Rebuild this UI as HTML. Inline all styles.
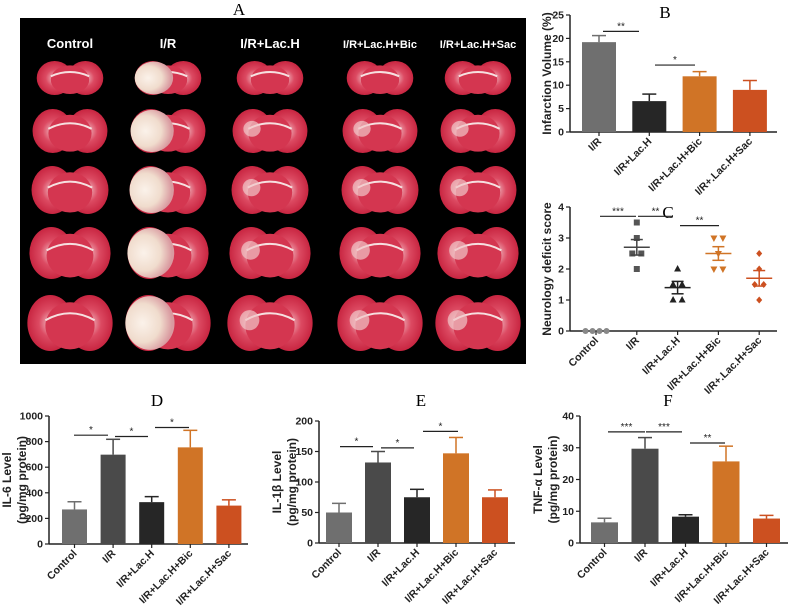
<!DOCTYPE html>
<html><head><meta charset="utf-8">
<style>
html,body{margin:0;padding:0;background:#fff;}
svg{display:block;font-family:"Liberation Sans",Arial,sans-serif;}
.t{font-family:"Liberation Serif",serif;font-size:17px;}
.tick{font-size:10.5px;font-weight:bold;fill:#222;}
.lab{font-size:12px;font-weight:bold;fill:#222;}
</style></head>
<body>
<svg id="fig" width="789" height="608" viewBox="0 0 789 608">
<defs>
<radialGradient id="brainRed" cx="50%" cy="50%" r="55%">
<stop offset="0%" stop-color="#f0c0c6"/><stop offset="45%" stop-color="#dc4a62"/><stop offset="100%" stop-color="#c41e3a"/>
</radialGradient>
<radialGradient id="brainWhite" cx="35%" cy="50%" r="60%">
<stop offset="0%" stop-color="#fbf2ea"/><stop offset="60%" stop-color="#f0dccd"/><stop offset="100%" stop-color="#d99aa0"/>
</radialGradient>
</defs>
<g id="panelA">
<text class="t" x="239" y="15" text-anchor="middle">A</text>
<rect x="20" y="18" width="506" height="346" fill="#000"/>
</g>
<g id="charts"></g>
</svg>
<script>
const colNames = ["Control","I/R","I/R+Lac.H","I/R+Lac.H+Bic","I/R+Lac.H+Sac"];
const NS="http://www.w3.org/2000/svg";
function mk(tag,attrs,parent){const e=document.createElementNS(NS,tag);for(const k in attrs)e.setAttribute(k,attrs[k]);parent.appendChild(e);return e;}
const A=document.getElementById('panelA');
const colX=[70,168,270,380,478], rowY=[78,131,190,253,323], rowW=[64,72,74,78,82], rowH=[34,44,48,52,56];
colNames.forEach((n,i)=>{
  const t=mk('text',{x:colX[i],y:48,'text-anchor':'middle',fill:'#fff','font-size':i<3?13:11,'font-weight':'bold'},A);
  t.textContent=n;
  
  
  rowY.forEach((y,r)=>{
    const g=mk('g',{},A);
    
    
    const w=rowW[r],h=rowH[r],x=colX[i];
    mk('ellipse',{cx:x-w*0.24,cy:y,rx:w*0.28,ry:h/2,fill:'url(#brainRed)'},g);
    mk('ellipse',{cx:x+w*0.24,cy:y,rx:w*0.28,ry:h/2,fill:'url(#brainRed)'},g);
    mk('ellipse',{cx:x,cy:y+h*0.05,rx:w*0.3,ry:h*0.42,fill:'#d43650'},g);
    mk('path',{d:`M${x-w*0.3} ${y-h*0.05} Q${x} ${y-h*0.3} ${x+w*0.3} ${y-h*0.05}`,stroke:'#f6e0e0','stroke-width':2,fill:'none'},g);
    if(i===1){mk('ellipse',{cx:x-w*0.22,cy:y,rx:w*0.3,ry:h*0.48,fill:'url(#brainWhite)'},g);}
    if(i>=2 && r>=1){mk('ellipse',{cx:x-w*0.25,cy:y-h*0.05,rx:w*0.12,ry:h*0.18,fill:'#f1c6c8',opacity:0.7},g);}
  });
});

const catsB=["I/R","I/R+Lac.H","I/R+Lac.H+Bic","I/R+.Lac.H+Sac"];
const valsB=[19.2,6.6,11.9,9.0];
const errB=[20.6,8.1,12.9,11.0];
const ticksB=[0,5,10,15,20,25];

const catsC=["Control","I/R","I/R+Lac.H","I/R+Lac.H+Bic","I/R+.Lac.H+Sac"];
const ptsC=[[0,0,0,0],[3.5,3,2.5,2.5,2],[2,1.5,1.5,1,1],[3,3,2,2,2.5],[2.5,2,1.5,1.5,1]];
const meanC=[0,2.7,1.4,2.5,1.7];
const semC=[0,0.25,0.2,0.22,0.25];
const ticksC=[0,1,2,3,4];

const catsDEF=["Control","I/R","I/R+Lac.H","I/R+Lac.H+Bic","I/R+Lac.H+Sac"];
const valsD=[270,698,327,755,300];
const errD=[330,818,370,888,345];
const ticksD=[0,200,400,600,800,1000];
const valsE=[50,132,75,147,75];
const errE=[65,150,88,173,87];
const ticksE=[0,50,100,150,200];
const valsF=[6.5,29.7,8.3,25.7,7.7];
const errF=[7.8,33.2,8.9,30.5,8.7];
const ticksF=[0,10,20,30,40];

const colors5=["#6f6f6f","#4a4a4a","#262626","#d07426","#cc5020"];
const colorsB=["#6f6f6f","#262626","#d07426","#cc5020"];

const C=document.getElementById('charts');

function axes(g,o){
  const y=v=>o.y0-(v-o.min)/(o.max-o.min)*(o.y0-o.y1);
  mk('line',{x1:o.ax,y1:o.y1,x2:o.ax,y2:o.y0,stroke:'#222','stroke-width':1.5},g);
  mk('line',{x1:o.ax,y1:o.y0,x2:o.axEnd,y2:o.y0,stroke:'#222','stroke-width':1.5},g);
  o.ticks.forEach(tv=>{
    mk('line',{x1:o.ax-4,y1:y(tv),x2:o.ax,y2:y(tv),stroke:'#222','stroke-width':1.2},g);
    const t=mk('text',{x:o.ax-6,y:y(tv)+3.5,'text-anchor':'end',class:'tick'},g);
    t.textContent=tv;
    
    
  });
  o.cats.forEach((c,i)=>{
    const cx=o.x(i);
    mk('line',{x1:cx,y1:o.y0,x2:cx,y2:o.y0+4,stroke:'#222','stroke-width':1.2},g);
    const t=mk('text',{x:cx+3,y:o.y0+10,'text-anchor':'end',class:'tick',transform:`rotate(-45 ${cx+3} ${o.y0+10})`},g);
    t.textContent=c;
    
    
  });
  o.ylab.forEach((l,k)=>{
    const lx=o.labX+k*15;
    const t=mk('text',{x:lx,y:(o.y0+o.y1)/2,'text-anchor':'middle',class:'lab',transform:`rotate(-90 ${lx} ${(o.y0+o.y1)/2})`},g);
    t.textContent=l;
    
    
  });
  const tt=mk('text',{x:o.tx,y:o.ty,'text-anchor':'middle',class:'t'},g);
  tt.textContent=o.title;
  
  
  return y;
}
function sig(g,x1,x2,yy,s){
  mk('line',{x1:x1,y1:yy,x2:x2,y2:yy,stroke:'#222','stroke-width':1.2},g);
  const t=mk('text',{x:(x1+x2)/2,y:yy-2,'text-anchor':'middle','font-size':10,fill:'#222'},g);
  t.textContent=s;
  
  
}
function barChart(o,vals,errs,cols,name){
  const g=mk('g',{},C);
  
  
  const y=axes(g,o);
  vals.forEach((v,i)=>{
    const cx=o.x(i), e=errs[i];
    mk('line',{x1:cx,y1:y(v),x2:cx,y2:y(e),stroke:cols[i],'stroke-width':1.5},g);
    mk('line',{x1:cx-7,y1:y(e),x2:cx+7,y2:y(e),stroke:cols[i],'stroke-width':1.5},g);
    const r=mk('rect',{x:cx-o.bw/2,y:y(v),width:o.bw,height:o.y0-y(v),fill:cols[i]},g);
    
    
  });
  o.sigs.forEach(s=>sig(g,s[0],s[1],y(s[2]),s[3]));
}

barChart({ax:570,axEnd:777,y0:132,y1:15,min:0,max:25,ticks:ticksB,cats:catsB,x:i=>599+i*50.3,bw:34,
  ylab:["Infarction Volume (%)"],labX:551,title:"B",tx:665,ty:18,
  sigs:[[603,639,21.5,"**"],[655,695,14.3,"*"]]},valsB,errB,colorsB,'panel-b-infarction-chart');

(function(){
  const g=mk('g',{},C);
  
  
  const o={ax:570,axEnd:777,y0:331,y1:207,min:0,max:4,ticks:ticksC,cats:catsC,x:i=>596+i*40.8,
    ylab:["Neurology deficit score"],labX:551,title:"C",tx:668,ty:218};
  const y=axes(g,o);
  ptsC.forEach((pts,i)=>{
    const cx=o.x(i);
    const seen={};
    pts.forEach(v=>{
      const n=seen[v]=(seen[v]||0)+1;
      const cnt=pts.filter(p=>p===v).length;
      const px=cx+(n-1-(cnt-1)/2)*(i===0?7:9);
      let m;
      if(i===0) m=mk('circle',{cx:px,cy:y(v),r:3,fill:'#888'},g);
      else if(i===1) m=mk('rect',{x:px-3,y:y(v)-3,width:6,height:6,fill:'#555'},g);
      else if(i===2) m=mk('path',{d:`M${px} ${y(v)-4}L${px+3.5} ${y(v)+2.5}L${px-3.5} ${y(v)+2.5}Z`,fill:'#222'},g);
      else if(i===3) m=mk('path',{d:`M${px} ${y(v)+4}L${px+3.5} ${y(v)-2.5}L${px-3.5} ${y(v)-2.5}Z`,fill:'#d07426'},g);
      else m=mk('path',{d:`M${px} ${y(v)-3.5}L${px+3} ${y(v)}L${px} ${y(v)+3.5}L${px-3} ${y(v)}Z`,fill:'#cc5020'},g);
      
      
    });
    if(i>0){
      const lc=['#888','#444','#222','#d07426','#cc5020'][i];
      mk('line',{x1:cx-13,y1:y(meanC[i]),x2:cx+13,y2:y(meanC[i]),stroke:lc,'stroke-width':1.5},g);
      mk('line',{x1:cx,y1:y(meanC[i]-semC[i]),x2:cx,y2:y(meanC[i]+semC[i]),stroke:lc,'stroke-width':1.5},g);
      [meanC[i]-semC[i],meanC[i]+semC[i]].forEach(v=>mk('line',{x1:cx-6,y1:y(v),x2:cx+6,y2:y(v),stroke:lc,'stroke-width':1.5},g));
    }
  });
  sig(g,600,636,y(3.7),"***");
  sig(g,638,673,y(3.7),"**");
  sig(g,680,719,y(3.4),"**");
})();

barChart({ax:49,axEnd:248,y0:544,y1:416,min:0,max:1000,ticks:ticksD,cats:catsDEF,x:i=>74.5+i*38.6,bw:25,
  ylab:["IL-6 Level","(pg/mg protein)"],labX:11,title:"D",tx:157,ty:406,
  sigs:[[74,108,850,"*"],[115,148,840,"*"],[155,189,910,"*"]]},valsD,errD,colors5,'panel-d-il6-chart');
barChart({ax:319,axEnd:515,y0:543,y1:421,min:0,max:200,ticks:ticksE,cats:catsDEF,x:i=>339+i*39,bw:26,
  ylab:["IL-1\u03b2 Level","(pg/mg protein)"],labX:281,title:"E",tx:421,ty:406,
  sigs:[[340,373,158,"*"],[381,414,156,"*"],[423,458,183,"*"]]},valsE,errE,colors5,'panel-e-il1b-chart');
barChart({ax:580,axEnd:788,y0:543,y1:416,min:0,max:40,ticks:ticksF,cats:catsDEF,x:i=>604.5+i*40.5,bw:27,
  ylab:["TNF-\u03b1 Level","(pg/mg protein)"],labX:542,title:"F",tx:668,ty:406,
  sigs:[[608,645,35,"***"],[646,682,35,"***"],[690,725,31.5,"**"]]},valsF,errF,colors5,'panel-f-tnfa-chart');
</script>
</body></html>
